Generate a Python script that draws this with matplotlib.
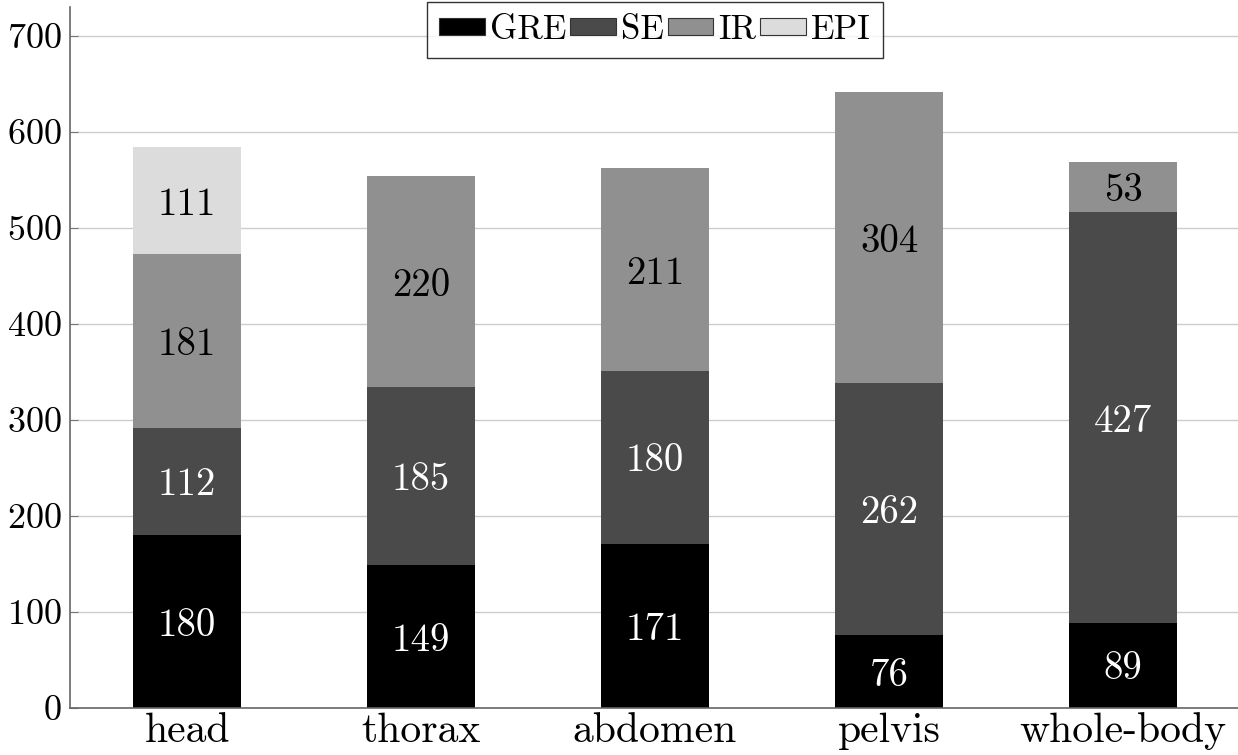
import matplotlib
matplotlib.use("Agg")
import matplotlib.pyplot as plt
import numpy as np
from matplotlib.patches import Patch

plt.rcParams['font.family'] = ['cmr10', 'DejaVu Serif']
plt.rcParams['mathtext.fontset'] = 'cm'
plt.rcParams['axes.formatter.use_mathtext'] = True

categories = ["head", "thorax", "abdomen", "pelvis", "whole-body"]
series_names = ["GRE", "SE", "IR", "EPI"]
gre = [180, 149, 171, 76, 89]
se = [112, 185, 180, 262, 427]
ir = [181, 220, 211, 304, 53]
epi = [111, 0, 0, 0, 0]
series = [gre, se, ir, epi]
colors = ["#000000", "#4a4a4a", "#909090", "#dcdcdc"]
text_colors = ["white", "white", "black", "black"]

fig = plt.figure(figsize=(12.38, 7.55), dpi=100)
ax = fig.add_axes([70/1238, 47/755, 1170/1238, 701/755])

x = np.arange(len(categories))
bottom = np.zeros(len(categories))
for vals, name, c, tc in zip(series, series_names, colors, text_colors):
    vals = np.array(vals, dtype=float)
    ax.bar(x, vals, width=0.46, bottom=bottom, color=c, label=name, zorder=2)
    for xi, v, b in zip(x, vals, bottom):
        if v > 0:
            ax.annotate(f"{int(v)}", (xi, b + v / 2), xytext=(0, -3),
                        textcoords="offset points", ha="center", va="center",
                        color=tc, fontsize=28, zorder=3)
    bottom += vals

ax.set_xlim(-0.5, 4.5)
ax.set_ylim(0, 730)
ax.set_yticks(range(0, 701, 100))
ax.set_xticks(x)
ax.set_xticklabels(categories)
ax.tick_params(axis='y', labelsize=26, direction='in', length=6, color='#777777', pad=6)
ax.tick_params(axis='x', labelsize=30, length=0, pad=3)
ax.yaxis.grid(True, color='#cccccc', linewidth=1, zorder=0)
ax.set_axisbelow(True)
for s in ['top', 'right']:
    ax.spines[s].set_visible(False)
for s in ['left', 'bottom']:
    ax.spines[s].set_color('#666666')
    ax.spines[s].set_linewidth(1.2)

leg_handles = [Patch(facecolor=c, edgecolor='#333333', linewidth=0.8) for c in colors]
leg = fig.legend(leg_handles, series_names, loc='upper center',
                 bbox_to_anchor=(655/1238, 1 - 2/755), ncol=4, fontsize=25,
                 frameon=True, fancybox=False, edgecolor='black',
                 handlelength=1.3, handleheight=0.35, handletextpad=0.15,
                 columnspacing=0.12, borderpad=0.35, borderaxespad=0)
leg.get_frame().set_linewidth(1.0)

fig.savefig("out.png", dpi=100)
